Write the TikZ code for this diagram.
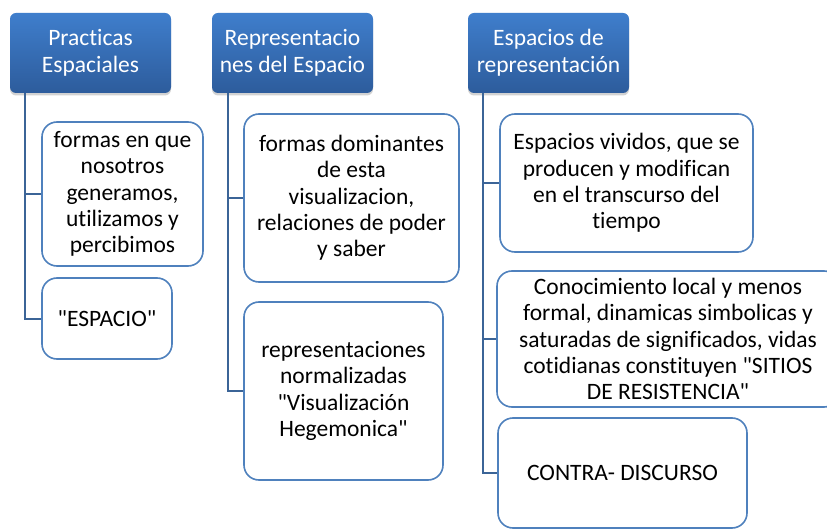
\documentclass[tikz,border=0pt]{standalone}
\usepackage{fontspec}
\setmainfont{Carlito}[Ligatures={TeXOff,NoCommon}]
\usetikzlibrary{shadows}
\definecolor{hdtop}{HTML}{3F7ECC}
\definecolor{hdbot}{HTML}{2D5C9C}
\definecolor{bordblue}{HTML}{4F81BD}
\definecolor{connblue}{HTML}{3B6497}
\newcommand{\dq}{\symbol{34}}
\tikzset{
  header/.style={rectangle, rounded corners=6pt, top color=hdtop, bottom color=hdbot,
    draw=none, text=white, align=center, inner sep=0pt,
    font=\fontsize{23.5}{27}\selectfont,
    drop shadow={opacity=0.35, shadow xshift=0pt, shadow yshift=-2.5pt},
    minimum width=161pt, minimum height=80pt},
  childbox/.style={rectangle, rounded corners=15pt, draw=bordblue, line width=1.6pt,
    fill=white, text=black, align=center, inner sep=0pt,
    font=\fontsize{23.5}{26.3}\selectfont},
  conn/.style={draw=connblue, line width=2pt}
}
\begin{document}
\begin{tikzpicture}[x=1pt,y=-1pt]
\useasboundingbox (0,0) rectangle (827,529);
\fill[white] (0,0) rectangle (827,529);
\clip (0,0) rectangle (827,529);
% headers
\node[header] (h1) at (90.5,53) {Practicas\\Espaciales};
\node[header] (h2) at (292.5,53) {Representacio\\nes del Espacio};
\node[header] (h3) at (548.5,53) {Espacios de\\representación};
% column 1
\node[childbox, minimum width=161pt, minimum height=144pt] (c1a) at (122.5,194)
  {formas en que\\nosotros\\generamos,\\utilizamos y\\percibimos};
\node[childbox, minimum width=130pt, minimum height=81pt] (c1b) at (107,318.5)
  {\dq ESPACIO\dq};
% column 2
\node[childbox, minimum width=215pt, minimum height=168pt] (c2a) at (351.5,198)
  {formas dominantes\\de esta\\visualizacion,\\relaciones de poder\\y saber};
\node[childbox, minimum width=199pt, minimum height=178pt] (c2b) at (343.5,391)
  {representaciones\\normalizadas\\\dq Visualización\\Hegemonica\dq};
% column 3
\node[childbox, minimum width=253pt, minimum height=138pt] (c3a) at (626.5,183)
  {Espacios vividos, que se\\producen y modifican\\en el transcurso del\\tiempo};
\node[childbox, minimum width=342pt, minimum height=136pt] (c3b) at (668,339)
  {Conocimiento local y menos\\formal, dinamicas simbolicas y\\saturadas de significados, vidas\\cotidianas constituyen \dq SITIOS\\DE RESISTENCIA\dq};
\node[childbox, minimum width=249pt, minimum height=110pt] (c3c) at (622.5,473)
  {CONTRA- DISCURSO};
% connectors
\draw[conn] ([xshift=15pt]h1.south west) |- (c1a.west);
\draw[conn] ([xshift=15pt]h1.south west) |- (c1b.west);
\draw[conn] ([xshift=16pt]h2.south west) |- (c2a.west);
\draw[conn] ([xshift=16pt]h2.south west) |- (c2b.west);
\draw[conn] ([xshift=15pt]h3.south west) |- (c3a.west);
\draw[conn] ([xshift=15pt]h3.south west) |- (c3b.west);
\draw[conn] ([xshift=15pt]h3.south west) |- (c3c.west);
\end{tikzpicture}
\end{document}
